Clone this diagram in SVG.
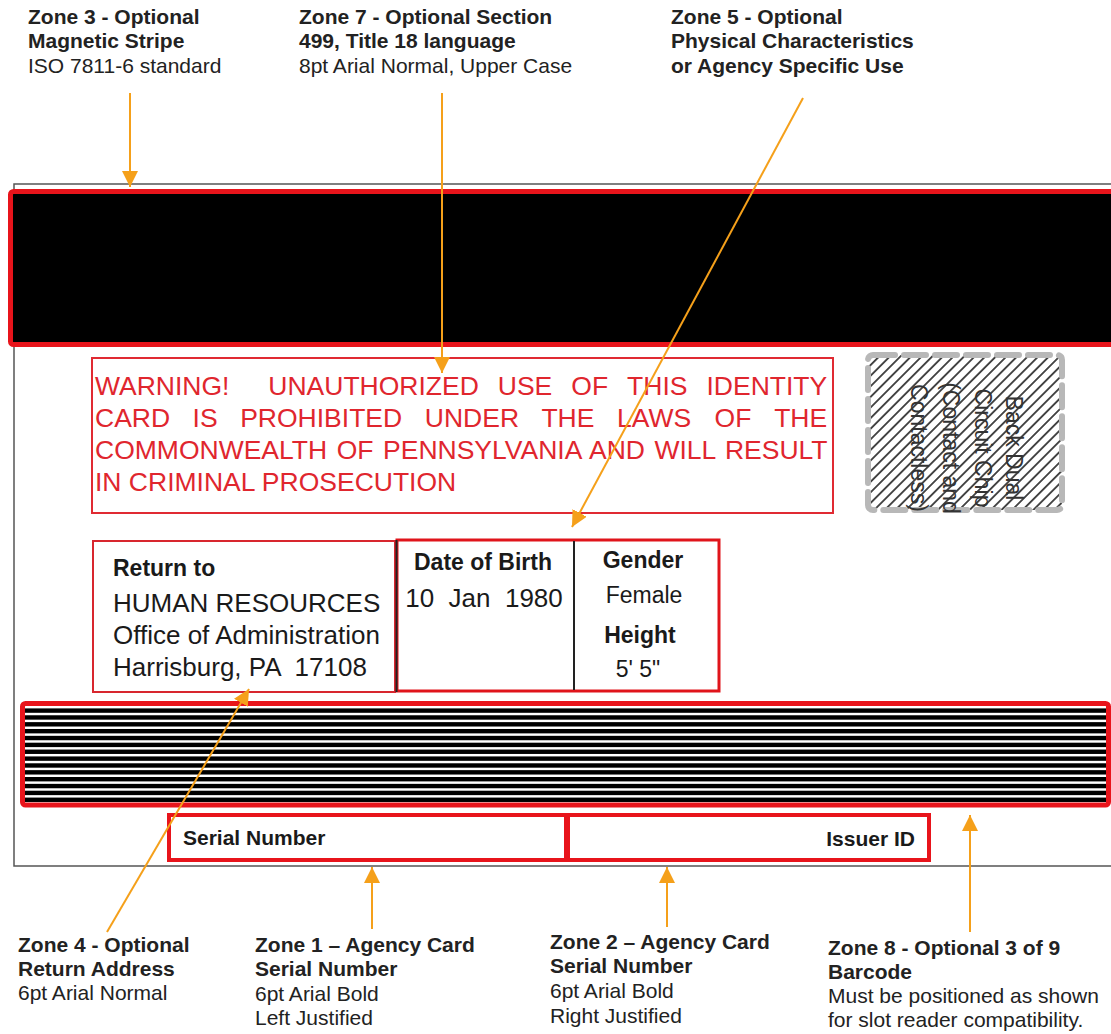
<svg xmlns="http://www.w3.org/2000/svg" width="1111" height="1034" viewBox="0 0 1111 1034">
<style>
.lb{font-family:"Liberation Sans",Arial,sans-serif;font-size:21px;font-weight:bold;fill:#222}
.ln{font-family:"Liberation Sans",Arial,sans-serif;font-size:21px;fill:#222}
.warn{font-family:"Liberation Sans",Arial,sans-serif;font-size:26.5px;fill:#e0262e}
.cb{font-family:"Liberation Sans",Arial,sans-serif;font-size:23px;font-weight:bold;fill:#1a1a1a}
.cn{font-family:"Liberation Sans",Arial,sans-serif;font-size:26px;fill:#1a1a1a}
.cn2{font-family:"Liberation Sans",Arial,sans-serif;font-size:23px;fill:#1a1a1a}
.sb{font-family:"Liberation Sans",Arial,sans-serif;font-size:21px;font-weight:bold;fill:#1a1a1a}
.chipt{font-family:"Liberation Sans",Arial,sans-serif;font-size:23px;fill:#333;text-anchor:middle}
.conn{stroke:#f5a01a;stroke-width:2;fill:none;marker-end:url(#ah)}
.bar{fill:#000}
</style>
<defs>
<marker id="ah" viewBox="0 0 16 16" refX="16" refY="8" markerWidth="16" markerHeight="16" markerUnits="userSpaceOnUse" orient="auto">
<path d="M0,0 L16,8 L0,16 z" fill="#f5a01a"/>
</marker>
<pattern id="hatch" patternUnits="userSpaceOnUse" width="7.5" height="7.5" patternTransform="rotate(45)">
<line x1="3.75" y1="0" x2="3.75" y2="7.5" stroke="#222" stroke-width="1.6"/>
</pattern>
<clipPath id="chipclip"><rect x="868" y="355" width="194" height="155"/></clipPath>
</defs>

<g id="card">
<path d="M1111,184 L14,184 L14,866 L1111,866" fill="none" stroke="#555" stroke-width="1.5"/>
</g>

<g id="zone3-stripe">
<rect x="10.5" y="191.5" width="1105" height="153" rx="3" fill="#000" stroke="#e8141b" stroke-width="5"/>
</g>

<g id="zone7-warning">
<rect x="92" y="358" width="741" height="155" fill="#fff" stroke="#e02a32" stroke-width="2"/>
<text class="warn" y="395"><tspan x="95">WARNING!</tspan><tspan x="268.3">UNAUTHORIZED</tspan><tspan x="497.8">USE</tspan><tspan x="571.3">OF</tspan><tspan x="627.1">THIS</tspan><tspan x="706.5">IDENTITY</tspan></text>
<text class="warn" y="427"><tspan x="95">CARD</tspan><tspan x="192.6">IS</tspan><tspan x="240.2">PROHIBITED</tspan><tspan x="424.8">UNDER</tspan><tspan x="541.4">THE</tspan><tspan x="617">LAWS</tspan><tspan x="714.6">OF</tspan><tspan x="774.2">THE</tspan></text>
<text class="warn" x="95" y="459" word-spacing="2.2">COMMONWEALTH OF PENNSYLVANIA AND WILL RESULT</text>
<text class="warn" x="95" y="491">IN CRIMINAL PROSECUTION</text>
</g>

<g id="chip">
<rect x="868" y="355" width="194" height="155" fill="url(#hatch)" clip-path="url(#chipclip)"/>
<rect x="868" y="355" width="194" height="155" rx="5" fill="none" stroke="#b8b8b8" stroke-width="6" stroke-dasharray="22 9" stroke-linecap="round"/>
<g transform="rotate(90)">
<text class="chipt" x="448" y="-1006">Back Dual</text>
<text class="chipt" x="448" y="-975">Circuit Chip</text>
<text class="chipt" x="448" y="-943">(Contact and</text>
<text class="chipt" x="448" y="-911">Contactless)</text>
</g>
</g>

<g id="zone4-return">
<rect x="93" y="541" width="302" height="151" fill="#fff" stroke="#d8262e" stroke-width="2"/>
<text class="cb" x="113" y="576">Return to</text>
<text class="cn" x="113" y="612">HUMAN RESOURCES</text>
<text class="cn" x="113" y="644">Office of Administration</text>
<text class="cn" x="113" y="676">Harrisburg, PA &#160;17108</text>
</g>

<g id="zone5-physical">
<rect x="397" y="540" width="322" height="151" fill="#fff" stroke="#e0141b" stroke-width="3"/>
<line x1="396.5" y1="540" x2="396.5" y2="692" stroke="#222" stroke-width="2"/>
<line x1="574" y1="541" x2="574" y2="690" stroke="#222" stroke-width="2"/>
<text class="cb" x="483" y="570" text-anchor="middle">Date of Birth</text>
<text class="cn" x="484" y="607" text-anchor="middle">10 &#160;Jan &#160;1980</text>
<text class="cb" x="643" y="568" text-anchor="middle">Gender</text>
<text class="cn2" x="644" y="603" text-anchor="middle">Female</text>
<text class="cb" x="640" y="643" text-anchor="middle">Height</text>
<text class="cn2" x="638" y="677" text-anchor="middle">5' 5"</text>
</g>

<g id="zone8-barcode">
<rect x="22.5" y="703.5" width="1086" height="101.5" rx="3" fill="#fff" stroke="#e8141b" stroke-width="5"/>
<rect class="bar" x="25" y="708.4" width="1081" height="4.4"/>
<rect class="bar" x="25" y="715.26" width="1081" height="4.4"/>
<rect class="bar" x="25" y="722.12" width="1081" height="4.4"/>
<rect class="bar" x="25" y="728.98" width="1081" height="4.4"/>
<rect class="bar" x="25" y="735.84" width="1081" height="4.4"/>
<rect class="bar" x="25" y="742.7" width="1081" height="4.4"/>
<rect class="bar" x="25" y="749.56" width="1081" height="4.4"/>
<rect class="bar" x="25" y="756.42" width="1081" height="4.4"/>
<rect class="bar" x="25" y="763.28" width="1081" height="4.4"/>
<rect class="bar" x="25" y="770.14" width="1081" height="4.4"/>
<rect class="bar" x="25" y="777" width="1081" height="4.4"/>
<rect class="bar" x="25" y="783.86" width="1081" height="4.4"/>
<rect class="bar" x="25" y="790.72" width="1081" height="4.4"/>
<rect class="bar" x="25" y="797.58" width="1081" height="4.4"/>
</g>

<g id="zone1-serial">
<rect x="169" y="815" width="397" height="45" fill="#fff" stroke="#e8141b" stroke-width="4"/>
<text class="sb" x="183" y="845">Serial Number</text>
</g>

<g id="zone2-issuer">
<rect x="568" y="815" width="361" height="45" fill="#fff" stroke="#e8141b" stroke-width="4"/>
<text class="sb" x="915" y="846" text-anchor="end">Issuer ID</text>
</g>

<g id="connectors">
<line class="conn" x1="130" y1="93" x2="130" y2="187"/>
<line class="conn" x1="442" y1="93" x2="442" y2="373"/>
<line class="conn" x1="803" y1="98" x2="572" y2="527"/>
<line class="conn" x1="107" y1="932" x2="249" y2="689"/>
<line class="conn" x1="372" y1="929" x2="372" y2="867"/>
<line class="conn" x1="667" y1="927" x2="667" y2="867"/>
<line class="conn" x1="970" y1="932" x2="970" y2="815"/>
</g>

<g id="label-zone3">
<text class="lb" x="28" y="24">Zone 3 - Optional</text>
<text class="lb" x="28" y="48">Magnetic Stripe</text>
<text class="ln" x="28" y="73">ISO 7811-6 standard</text>
</g>
<g id="label-zone7">
<text class="lb" x="299" y="24">Zone 7 - Optional Section</text>
<text class="lb" x="299" y="48">499, Title 18 language</text>
<text class="ln" x="299" y="73">8pt Arial Normal, Upper Case</text>
</g>
<g id="label-zone5">
<text class="lb" x="671" y="24">Zone 5 - Optional</text>
<text class="lb" x="671" y="48">Physical Characteristics</text>
<text class="lb" x="671" y="73">or Agency Specific Use</text>
</g>
<g id="label-zone4">
<text class="lb" x="18" y="952">Zone 4 - Optional</text>
<text class="lb" x="18" y="976">Return Address</text>
<text class="ln" x="18" y="1000">6pt Arial Normal</text>
</g>
<g id="label-zone1">
<text class="lb" x="255" y="952">Zone 1 – Agency Card</text>
<text class="lb" x="255" y="976">Serial Number</text>
<text class="ln" x="255" y="1001">6pt Arial Bold</text>
<text class="ln" x="255" y="1025">Left Justified</text>
</g>
<g id="label-zone2">
<text class="lb" x="550" y="949">Zone 2 – Agency Card</text>
<text class="lb" x="550" y="973">Serial Number</text>
<text class="ln" x="550" y="998">6pt Arial Bold</text>
<text class="ln" x="550" y="1023">Right Justified</text>
</g>
<g id="label-zone8">
<text class="lb" x="828" y="955">Zone 8 - Optional 3 of 9</text>
<text class="lb" x="828" y="979">Barcode</text>
<text class="ln" x="828" y="1003">Must be positioned as shown</text>
<text class="ln" x="828" y="1027">for slot reader compatibility.</text>
</g>
</svg>
